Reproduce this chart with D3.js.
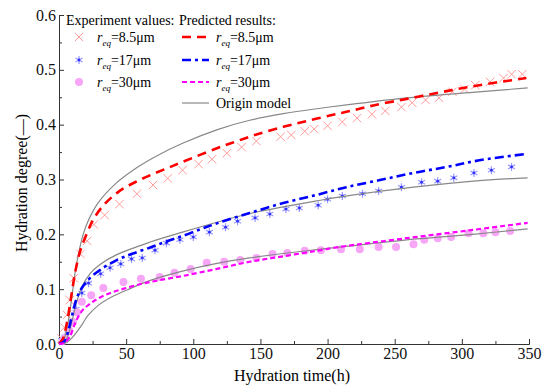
<!DOCTYPE html>
<html>
<head>
<meta charset="utf-8">
<script src="https://cdn.jsdelivr.net/npm/d3@7"></script>
<style>
body { margin: 0; background: #fff; }
</style>
</head>
<body>
<script>
// experiment values (t in h, hydration degree)
var exp85T = [2, 4, 6, 8, 11, 16, 21, 26, 34, 45, 58, 70, 81, 92, 104, 114, 125, 136, 147, 165, 173, 183, 190, 200, 211, 222, 233, 243, 255, 263, 273, 283, 293, 302, 310, 321, 331, 337, 345];
var exp85V = [0.01, 0.03, 0.053, 0.08, 0.12, 0.164, 0.188, 0.218, 0.235, 0.255, 0.274, 0.29, 0.302, 0.317, 0.328, 0.337, 0.348, 0.359, 0.37, 0.378, 0.381, 0.388, 0.392, 0.398, 0.405, 0.412, 0.419, 0.425, 0.432, 0.44, 0.445, 0.449, 0.46, 0.465, 0.472, 0.478, 0.485, 0.492, 0.492];
var exp17T = [2, 4.5, 6.7, 9.7, 12.7, 17, 22, 31, 38, 46, 54, 62, 71.5, 80, 90, 100, 112, 124, 133, 146, 157, 169, 179, 193, 200, 211, 226, 238, 255, 270, 282, 294, 309, 322, 337];
var exp17V = [0.007, 0.013, 0.02, 0.04, 0.064, 0.093, 0.111, 0.128, 0.139, 0.146, 0.155, 0.157, 0.171, 0.184, 0.19, 0.195, 0.204, 0.213, 0.224, 0.23, 0.237, 0.246, 0.248, 0.253, 0.264, 0.27, 0.274, 0.279, 0.286, 0.295, 0.297, 0.303, 0.312, 0.317, 0.323];
var exp30T = [2.5, 5, 7.5, 10.4, 13.4, 17, 24, 33, 48, 61, 75, 86, 98, 110, 123, 135, 147, 159, 170, 183, 195, 210, 224, 238, 251, 264, 272, 282, 292, 305, 316, 325, 336];
var exp30V = [0.005, 0.012, 0.025, 0.04, 0.058, 0.077, 0.089, 0.102, 0.113, 0.119, 0.122, 0.13, 0.137, 0.148, 0.15, 0.153, 0.157, 0.164, 0.166, 0.17, 0.171, 0.173, 0.173, 0.177, 0.177, 0.182, 0.19, 0.193, 0.195, 0.202, 0.202, 0.204, 0.206];

// predicted results
var pred85T = [0, 3, 6, 9, 12, 15.6, 20.8, 25.3, 32.8, 44, 56.6, 69, 81, 92, 117.6, 132.5, 147, 167, 185, 204, 217, 234, 259, 284, 308, 348];
var pred85V = [0, 0.01, 0.04, 0.085, 0.13, 0.168, 0.202, 0.226, 0.252, 0.277, 0.295, 0.309, 0.321, 0.332, 0.357, 0.37, 0.382, 0.396, 0.407, 0.418, 0.425, 0.435, 0.447, 0.459, 0.47, 0.485];
var pred17T = [0, 4, 7, 10, 13, 17, 23, 30.5, 43, 55, 68, 80, 92, 105, 117.6, 142, 167, 192, 214, 239, 264, 289, 313, 349];
var pred17V = [0, 0.005, 0.025, 0.055, 0.082, 0.102, 0.12, 0.135, 0.153, 0.165, 0.176, 0.187, 0.197, 0.209, 0.22, 0.239, 0.257, 0.272, 0.286, 0.299, 0.312, 0.323, 0.335, 0.347];
var pred30T = [0, 4, 8, 12, 17, 24.6, 34, 47, 62, 74, 92, 117.6, 142, 167, 192, 209, 259, 308, 349];
var pred30V = [0, 0.002, 0.013, 0.038, 0.06, 0.076, 0.089, 0.1, 0.11, 0.116, 0.124, 0.137, 0.15, 0.16, 0.17, 0.177, 0.193, 0.208, 0.221];

// origin model
var orig85T = [0, 3, 6, 9, 12, 15, 18, 22, 29, 42, 57, 72, 92, 118, 142, 167, 192, 217, 259, 308, 349];
var orig85V = [0, 0.005, 0.03, 0.075, 0.13, 0.17, 0.2, 0.226, 0.257, 0.292, 0.32, 0.342, 0.366, 0.391, 0.408, 0.42, 0.429, 0.437, 0.449, 0.459, 0.467];
var orig17T = [0, 4, 7, 10, 13, 17, 23, 30.5, 43, 68, 92, 117.6, 142, 167, 192, 217, 264, 313, 349];
var orig17V = [0, 0.003, 0.018, 0.045, 0.075, 0.104, 0.128, 0.145, 0.163, 0.186, 0.204, 0.222, 0.238, 0.25, 0.261, 0.271, 0.286, 0.298, 0.303];
var orig30T = [0, 5, 8, 12, 17, 21.6, 29, 39.5, 51, 68, 92, 117.6, 142, 167, 192, 217, 259, 308, 349];
var orig30V = [0, 0.002, 0.007, 0.018, 0.035, 0.052, 0.07, 0.086, 0.099, 0.116, 0.133, 0.147, 0.157, 0.165, 0.172, 0.179, 0.19, 0.2, 0.21];

var xTicks = [0, 50, 100, 150, 200, 250, 300, 350];
var xMinor = [25, 75, 125, 175, 225, 275, 325];
var yTicks = [0, 0.1, 0.2, 0.3, 0.4, 0.5, 0.6];
var yMinor = [0.05, 0.15, 0.25, 0.35, 0.45, 0.55];

var serif = 'Liberation Serif';
var width = 550;
var height = 390;
var svg = d3.select('body')
    .append("svg")
    .attr("width", width)
    .attr("height", height)
    .attr('font-family', serif);

var xScale = d3.scaleLinear().domain([0, 350]).range([59, 529]);
var yScale = d3.scaleLinear().domain([0, 0.6]).range([344, 15]);

function zip(ts, vs) {
    return ts.map(function (t, i) { return { t: t, v: vs[i] }; });
}

// axes, ticks point inwards
var xAxis = d3.axisBottom(xScale).tickValues(xTicks).tickSize(-5).tickSizeOuter(0).tickPadding(4);
var xAxisMinor = d3.axisBottom(xScale).tickValues(xMinor).tickSize(-3).tickSizeOuter(0).tickFormat("");
var yAxis = d3.axisLeft(yScale).tickValues(yTicks).tickSize(-5).tickSizeOuter(0).tickPadding(3).tickFormat(d3.format(".1f"));
var yAxisMinor = d3.axisLeft(yScale).tickValues(yMinor).tickSize(-3).tickSizeOuter(0).tickFormat("");

function styleAxis(g) {
    g.attr('font-family', serif);
    g.selectAll('path, line').attr('stroke', '#333').attr('stroke-width', 1);
    g.selectAll('text').attr('font-size', 16).attr('fill', '#111');
}

svg.append('g').attr('transform', 'translate(0,344)').call(xAxisMinor).call(styleAxis);
svg.append('g').attr('transform', 'translate(0,344)').call(xAxis).call(styleAxis);
svg.append('g').attr('transform', 'translate(59,0)').call(yAxisMinor).call(styleAxis);
svg.append('g').attr('transform', 'translate(59,0)').call(yAxis).call(styleAxis);

svg.append('text')
    .attr('x', 292).attr('y', 381)
    .attr('text-anchor', 'middle')
    .attr('font-size', 16)
    .text('Hydration time(h)');
svg.append('text')
    .attr('transform', 'translate(27,183) rotate(-90)')
    .attr('text-anchor', 'middle')
    .attr('font-size', 16)
    .text('Hydration degree(—)');

// markers
var plot = svg.append('g');
plot.selectAll('.x85')
    .data(zip(exp85T, exp85V))
    .enter().append('path')
    .attr('d', d3.symbol(d3.symbolX, 48))
    .attr('transform', function (d) { return "translate(" + xScale(d.t) + "," + yScale(d.v) + ")"; })
    .attr('fill', 'none')
    .attr('stroke', '#ff9a9a')
    .attr('stroke-width', 1);

var ast = plot.selectAll('.a17')
    .data(zip(exp17T, exp17V))
    .enter().append('g')
    .attr('transform', function (d) { return "translate(" + xScale(d.t) + "," + yScale(d.v) + ")"; });
ast.append('path')
    .attr('d', d3.symbol(d3.symbolAsterisk, 45))
    .attr('fill', 'none')
    .attr('stroke', '#9a9aff')
    .attr('stroke-width', 1.2);
ast.append('circle').attr('r', 1.4).attr('fill', '#3030ff');

plot.selectAll('.c30')
    .data(zip(exp30T, exp30V))
    .enter().append('circle')
    .attr('cx', function (d) { return xScale(d.t); })
    .attr('cy', function (d) { return yScale(d.v); })
    .attr('r', 4)
    .attr('fill', '#f7a6f7');

// lines
var line = d3.line()
    .x(function (d) { return xScale(d.t); })
    .y(function (d) { return yScale(d.v); })
    .curve(d3.curveCatmullRom.alpha(0.5));

var lines = [
    { t: orig85T, v: orig85V, color: '#888', w: 1.2, dash: null },
    { t: orig17T, v: orig17V, color: '#888', w: 1.2, dash: null },
    { t: orig30T, v: orig30V, color: '#888', w: 1.2, dash: null },
    { t: pred85T, v: pred85V, color: '#ff0000', w: 2.6, dash: '9,6' },
    { t: pred17T, v: pred17V, color: '#0000ff', w: 2.6, dash: '9,4,3,4' },
    { t: pred30T, v: pred30V, color: '#ff00ff', w: 2.2, dash: '5,3' }
];
plot.selectAll('.curve')
    .data(lines)
    .enter().append('path')
    .attr('d', function (d) { return line(zip(d.t, d.v)); })
    .attr('fill', 'none')
    .attr('stroke', function (d) { return d.color; })
    .attr('stroke-width', function (d) { return d.w; })
    .attr('stroke-dasharray', function (d) { return d.dash; });

// legend
var legend = svg.append('g').attr('font-size', 14).attr('font-family', serif);
legend.append('text').attr('x', 66).attr('y', 25).text('Experiment values:');
legend.append('text').attr('x', 179).attr('y', 25).text('Predicted results:');

var legRows = [
    { y: 37, label: '=8.5μm', kind: 'x', color: '#ff0000', dash: '9,6', w: 2.6 },
    { y: 60, label: '=17μm', kind: 'a', color: '#0000ff', dash: '9,4,3,4', w: 2.6 },
    { y: 82, label: '=30μm', kind: 'c', color: '#ff00ff', dash: '5,3', w: 2.2 }
];

function reqLabel(x, y, label) {
    var t = legend.append('text').attr('x', x).attr('y', y + 5);
    t.append('tspan').attr('font-style', 'italic').text('r');
    t.append('tspan').attr('font-style', 'italic').attr('font-size', 9).attr('dy', 4).text('eq');
    t.append('tspan').attr('dy', -4).text(label);
}

legRows.forEach(function (r) {
    if (r.kind === 'x') {
        legend.append('path').attr('d', d3.symbol(d3.symbolX, 48))
            .attr('transform', 'translate(79,' + r.y + ')')
            .attr('fill', 'none').attr('stroke', '#ff9a9a');
    } else if (r.kind === 'a') {
        legend.append('path').attr('d', d3.symbol(d3.symbolAsterisk, 45))
            .attr('transform', 'translate(79,' + r.y + ')')
            .attr('fill', 'none').attr('stroke', '#9a9aff').attr('stroke-width', 1.2);
        legend.append('circle').attr('cx', 79).attr('cy', r.y).attr('r', 1.4).attr('fill', '#3030ff');
    } else {
        legend.append('circle').attr('cx', 79).attr('cy', r.y).attr('r', 4).attr('fill', '#f7a6f7');
    }
    reqLabel(97, r.y, r.label);
    legend.append('line')
        .attr('x1', 182).attr('x2', 209).attr('y1', r.y).attr('y2', r.y)
        .attr('stroke', r.color).attr('stroke-width', r.w).attr('stroke-dasharray', r.dash);
    reqLabel(216, r.y, r.label);
});
legend.append('line')
    .attr('x1', 182).attr('x2', 209).attr('y1', 103).attr('y2', 103)
    .attr('stroke', '#888').attr('stroke-width', 1.2);
legend.append('text').attr('x', 216).attr('y', 108).text('Origin model');
</script>
</body>
</html>
